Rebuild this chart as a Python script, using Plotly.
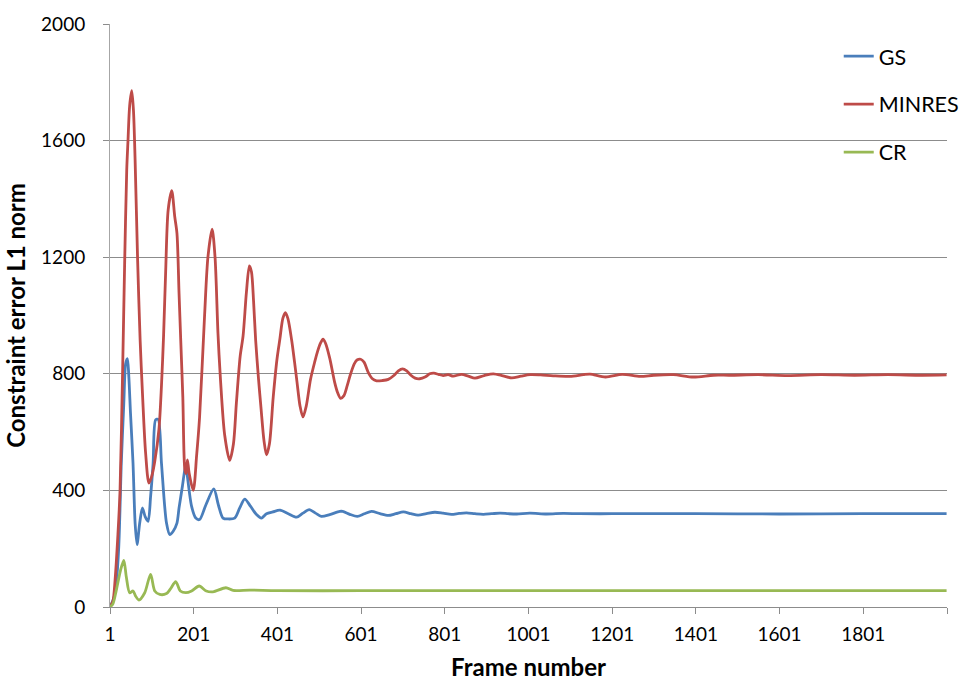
import plotly.graph_objects as go

# Constraint error (L1 norm) per frame for the three solvers
gs_frames = [1, 10, 16, 22, 28, 34, 38.5, 42.6, 46, 50, 56, 61, 65.6, 72, 78.5, 85, 92, 98, 104,
             110, 116, 124, 136, 144, 152, 161, 166, 174, 182, 185, 196, 206, 215, 230, 249,
             260, 271, 283, 299, 311, 323, 337, 351, 363, 375, 390, 407, 427, 447, 462, 477,
             492, 506, 526, 550, 557, 574, 592, 609, 626, 646, 666, 684, 702, 720, 737, 757,
             777, 797, 817, 835, 853, 873, 893, 913, 933, 953, 973, 1004, 1044, 1084, 1124,
             1200, 1400, 1600, 1800, 2000]
gs_error = [0, 30, 83, 209, 493, 699, 835, 852, 790, 664, 493, 288, 214, 288, 340, 310, 294, 379,
            493, 642, 644, 493, 288, 248, 260, 288, 340, 414, 488, 459, 345, 305, 300, 350, 405,
            350, 305, 302, 305, 340, 370, 345, 317, 305, 320, 326, 332, 320, 308, 322, 334,
            322, 311, 317, 328, 328, 318, 311, 320, 328, 320, 314, 320, 326, 320, 315, 320,
            325, 322, 318, 321, 323, 320, 318, 320, 322, 320, 319, 322, 319, 321, 320,
            320, 320, 319, 320, 320]

minres_frames = [1, 8, 13, 20, 25, 31, 36, 41, 44, 48, 53, 57, 61, 67, 73, 79, 86, 94, 101, 108,
                 118, 124, 129, 134, 140, 148.5, 155.7, 161, 166, 170, 175, 180, 183, 186, 190,
                 200, 208, 215, 227, 235, 245, 252, 259, 265, 275, 287, 296, 303, 312, 319, 327,
                 334, 339, 344, 349, 356, 362, 369, 375, 382, 391, 400, 407, 414, 420, 426, 435,
                 442, 448, 455, 462, 470, 480, 490, 497, 504, 510, 516, 526, 538, 545, 552, 560,
                 568, 576, 585, 592, 600, 608, 618, 628, 638, 652, 666, 680, 690, 700, 710, 720,
                 730, 741, 755, 765, 775, 786, 797, 809, 821, 841, 857, 873, 895, 917, 940, 961,
                 983, 1005, 1030, 1060, 1100, 1132, 1148, 1185, 1225, 1268, 1300, 1347, 1395,
                 1443, 1483, 1550, 1620, 1700, 1780, 1860, 1940, 2000]
minres_error = [0, 20, 90, 250, 400, 800, 1180, 1500, 1600, 1720, 1771, 1705, 1533, 1190, 916,
                720, 530, 425, 450, 500, 610, 760, 930, 1150, 1362, 1428, 1339, 1282, 1076, 916,
                720, 470, 458, 505, 460, 400, 520, 650, 1000, 1200, 1296, 1200, 939, 780, 590,
                503, 560, 700, 860, 930, 1080, 1170, 1150, 1050, 916, 780, 680, 570, 522, 560,
                720, 850, 920, 990, 1010, 990, 916, 840, 770, 690, 652, 690, 780, 840, 877, 905,
                919, 905, 854, 770, 735, 716, 725, 760, 800, 835, 848, 850, 840, 805, 783, 776,
                777, 781, 795, 810, 817, 810, 795, 785, 783, 790, 800, 802, 798, 794, 797, 792,
                798, 792, 785, 794, 800, 793, 786, 792, 797, 796, 793, 791, 797, 799, 789, 798,
                791, 795, 797, 789, 795, 795, 797, 794, 797, 795, 797, 795, 796]

cr_frames = [1, 8, 16, 26, 34, 40, 48, 56, 62, 70, 84, 98, 108, 120, 136, 145, 158, 169, 182,
             196, 214, 231, 247, 278, 295, 335, 400, 600, 800, 1000, 1200, 1400, 1600, 1800, 2000]
cr_error = [0, 11, 57, 125, 160, 103, 49, 55, 38, 24, 49, 112, 55, 43, 46, 61, 87, 55, 49, 55,
            72, 55, 52, 66, 57, 58, 56, 56, 56, 56, 56, 56, 56, 56, 56]

x_tick_vals = [1, 201, 401, 601, 801, 1001, 1201, 1401, 1601, 1801, 2001]
x_tick_text = ["1", "201", "401", "601", "801", "1001", "1201", "1401", "1601", "1801", ""]
y_tick_vals = [0, 400, 800, 1200, 1600, 2000]

series = [
    ("GS", gs_frames, gs_error, "#4A7EBB"),
    ("MINRES", minres_frames, minres_error, "#BE4B48"),
    ("CR", cr_frames, cr_error, "#98B954"),
]

FONT = "Lato"
AXIS_GREY = "#8C8C8C"

fig = go.Figure()
for name, xs, ys, color in series:
    fig.add_trace(go.Scatter(
        x=xs, y=ys, name=name, mode="lines", legendgroup=name,
        line=dict(color=color, width=2.8, shape="spline", smoothing=0.8),
    ))

fig.update_layout(
    width=963, height=681,
    margin=dict(l=110, r=16, t=24, b=74, autoexpand=False),
    paper_bgcolor="white", plot_bgcolor="white",
    font=dict(family=FONT, size=19, color="black"),
    showlegend=True,
    legend=dict(
        x=1.02, y=0.98, xanchor="right", yanchor="top",
        font=dict(family=FONT, size=21.5, color="black"),
        bgcolor="rgba(0,0,0,0)", tracegroupgap=17,
    ),
)

fig.update_xaxes(
    range=[1, 2001], tickmode="array", tickvals=x_tick_vals, ticktext=x_tick_text,
    showgrid=False, zeroline=False, showline=True, linecolor=AXIS_GREY, linewidth=1,
    ticks="outside", ticklen=6, tickcolor=AXIS_GREY, automargin=False,
    tickfont=dict(family=FONT, size=19), ticklabelstandoff=4,
    title=dict(text="<b>Frame number</b>", font=dict(family=FONT, size=24), standoff=16),
)
fig.update_yaxes(
    range=[0, 2000], tickmode="array", tickvals=y_tick_vals,
    showgrid=True, gridcolor=AXIS_GREY, gridwidth=1, zeroline=False,
    showline=True, linecolor="#A6A6A6", linewidth=1, automargin=False,
    ticks="outside", ticklen=6, tickcolor=AXIS_GREY,
    tickfont=dict(family=FONT, size=19), ticklabelstandoff=14,
    title=dict(text="<b>Constraint error L1 norm</b>", font=dict(family=FONT, size=24), standoff=8),
)

fig.write_html("out.html")
